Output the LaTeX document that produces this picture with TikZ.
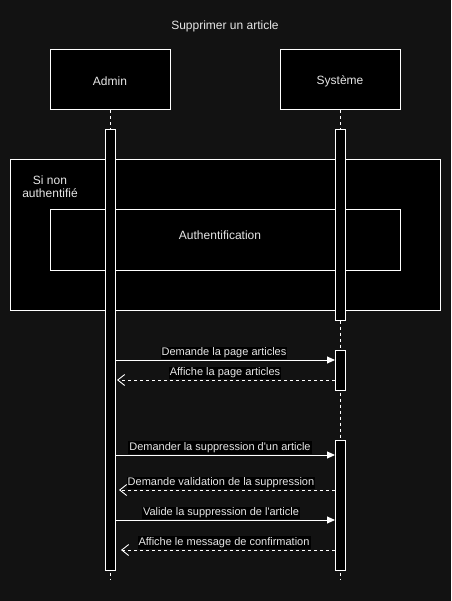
\documentclass[tikz,border=0pt]{standalone}
\usepackage{fontspec}
\setmainfont{Liberation Sans}
\usetikzlibrary{arrows.meta}
\definecolor{bgc}{HTML}{121212}
\definecolor{txt}{HTML}{E6E6E6}
\tikzset{
  actorbox/.style={draw=white, fill=black, line width=1pt, minimum width=120pt, minimum height=60pt, inner sep=0pt},
  actbar/.style={draw=white, fill=black, line width=1pt},
  lifeline/.style={draw=white, line width=0.8pt, dash pattern=on 3pt off 3pt},
  framebox/.style={draw=white, fill=black, line width=1pt},
  msgtext/.style={fill=black, text=txt, font=\fontsize{11}{13}\selectfont, inner sep=1pt},
  callmsg/.style={draw=white, line width=0.9pt, -{Triangle[length=8pt,width=7pt]}},
  retmsg/.style={draw=white, line width=0.9pt, dash pattern=on 3pt off 3pt, -{Straight Barb[length=7pt,width=11pt,line width=0.9pt]}},
  plaintext/.style={text=txt, font=\fontsize{12}{14}\selectfont, inner sep=0pt, align=center}
}
\begin{document}
\begin{tikzpicture}[x=1pt,y=-1pt]
\fill[bgc] (0,0) rectangle (451,601);
\useasboundingbox (0,0) rectangle (451,601);
\node[plaintext] (title) at (225,26) {Supprimer un article};
\node[actorbox] (admin) at (110,80) {};
\node[actorbox] (sys) at (340,80) {};
\node[plaintext] (adminlbl) at (110,81.5) {Admin};
\node[plaintext] (syslbl) at (340,81.5) {Système};
\coordinate (aend) at (110,580);
\coordinate (send) at (340,580);
\draw[lifeline] (admin.south) -- (aend);
\draw[lifeline] (sys.south) -- (send);
% frames
\draw[framebox] (10,160) rectangle (440,310);
\node[plaintext] (cond) at (50,186.5) {Si non\\[-1.5pt]authentifié};
\draw[framebox] (50,210) rectangle (400,270);
\node[plaintext] (auth) at (220,235.5) {Authentification};
% activation bars
\draw[actbar] (105,130) rectangle (115,570);
\draw[actbar] (335,130) rectangle (345,320);
\draw[actbar] (335,350) rectangle (345,390);
\draw[actbar] (335,440) rectangle (345,570);
% messages
\coordinate (a1) at (115,360); \coordinate (s1) at (335,360);
\coordinate (s2) at (335,380); \coordinate (a2) at (117,380);
\coordinate (a3) at (115,455); \coordinate (s3) at (335,455);
\coordinate (s4) at (335,490); \coordinate (a4) at (119,490);
\coordinate (a5) at (115,520); \coordinate (s5) at (335,520);
\coordinate (s6) at (335,550); \coordinate (a6) at (121,550);
\draw[callmsg] (a1) -- (s1);
\draw[retmsg] (s2) -- (a2);
\draw[callmsg] (a3) -- (s3);
\draw[retmsg] (s4) -- (a4);
\draw[callmsg] (a5) -- (s5);
\draw[retmsg] (s6) -- (a6);
\node[msgtext] (m1) at (224,353) {Demande la page articles};
\node[msgtext] (m2) at (225,373) {Affiche la page articles};
\node[msgtext] (m3) at (220,447.5) {Demander la suppression d\textquotesingle un article};
\node[msgtext] (m4) at (221,483) {Demande validation de la suppression};
\node[msgtext] (m5) at (221,513) {Valide la suppression de l\textquotesingle article};
\node[msgtext] (m6) at (224,542.5) {Affiche le message de confirmation};
\end{tikzpicture}
\end{document}
